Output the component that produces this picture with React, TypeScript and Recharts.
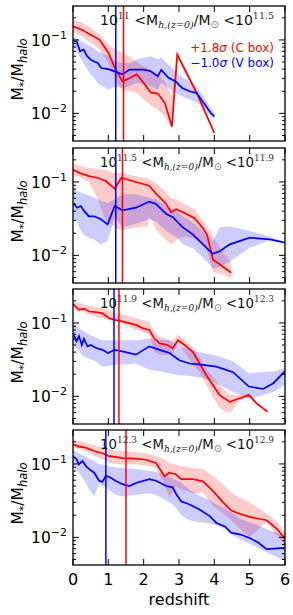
import React from 'react';
import { ComposedChart, Line, Area, XAxis, YAxis, ReferenceLine } from 'recharts';

// Each row: [redshift, median, lower, upper]
type Row = [number, number, number, number];

const p1Red: Row[] = [
  [0, 0.153, 0.127, 0.186], [0.25, 0.138, 0.112, 0.174], [0.5, 0.118, 0.091, 0.146],
  [0.75, 0.101, 0.074, 0.12], [1.0, 0.067, 0.0486, 0.086], [1.2, 0.04, 0.0288, 0.074],
  [1.4, 0.0273, 0.021, 0.0665], [1.6, 0.03, 0.02, 0.06], [1.8, 0.034, 0.0189, 0.051],
  [2.0, 0.026, 0.0154, 0.0437], [2.2, 0.0193, 0.013, 0.0394], [2.4, 0.0186, 0.0112, 0.034],
  [2.6, 0.0138, 0.0091, 0.0273], [2.8, 0.0066, 0.006, 0.0171], [2.95, 0.063, 0.057, 0.07],
  [3.5, 0.019, 0.0175, 0.0205], [4.0, 0.0054, 0.0051, 0.0057],
];
const p1Blue: Row[] = [
  [0, 0.096, 0.082, 0.112], [0.1, 0.096, 0.072, 0.106], [0.2, 0.07, 0.058, 0.098],
  [0.3, 0.074, 0.048, 0.092], [0.4, 0.06, 0.04, 0.087], [0.5, 0.0539, 0.034, 0.082],
  [0.6, 0.051, 0.03, 0.076], [0.7, 0.0486, 0.026, 0.07], [0.8, 0.0415, 0.024, 0.066],
  [1.0, 0.04, 0.021, 0.06], [1.2, 0.037, 0.0234, 0.051], [1.4, 0.034, 0.022, 0.0486],
  [1.6, 0.0394, 0.0234, 0.0486], [1.8, 0.0394, 0.026, 0.054], [2.0, 0.0394, 0.025, 0.057],
  [2.2, 0.0375, 0.0234, 0.06], [2.4, 0.032, 0.021, 0.054], [2.5, 0.039, 0.026, 0.058],
  [2.7, 0.0305, 0.022, 0.046], [2.9, 0.0274, 0.0189, 0.0375], [3.0, 0.0245, 0.018, 0.034],
  [3.1, 0.022, 0.017, 0.031], [3.3, 0.02, 0.0154, 0.027], [3.5, 0.0189, 0.014, 0.023],
  [3.7, 0.0138, 0.0118, 0.0171], [3.9, 0.0101, 0.0092, 0.0118], [4.0, 0.0091, 0.0082, 0.0101],
];

const p2Red: Row[] = [
  [0, 0.146, 0.125, 0.18], [0.22, 0.131, 0.115, 0.165], [0.45, 0.12, 0.1, 0.155],
  [0.69, 0.114, 0.06, 0.15], [0.93, 0.103, 0.03, 0.145], [1.18, 0.081, 0.024, 0.13],
  [1.37, 0.114, 0.022, 0.135], [1.78, 0.1, 0.024, 0.12], [2.12, 0.09, 0.025, 0.112],
  [2.16, 0.088, 0.034, 0.11], [2.37, 0.068, 0.022, 0.095], [2.64, 0.05, 0.016, 0.072],
  [2.78, 0.0386, 0.014, 0.06], [2.92, 0.0425, 0.016, 0.058], [3.16, 0.0377, 0.018, 0.05],
  [3.44, 0.032, 0.017, 0.042], [3.68, 0.0234, 0.014, 0.03], [3.79, 0.0193, 0.012, 0.026],
  [3.96, 0.0088, 0.006, 0.018], [4.23, 0.0071, 0.0055, 0.011], [4.48, 0.0058, 0.0048, 0.008],
];
const p2Blue: Row[] = [
  [0, 0.052, 0.033, 0.084], [0.12, 0.0446, 0.028, 0.075], [0.22, 0.047, 0.0214, 0.072],
  [0.32, 0.04, 0.019, 0.069], [0.45, 0.034, 0.0174, 0.066], [0.6, 0.034, 0.0165, 0.061],
  [0.79, 0.031, 0.0141, 0.055], [0.98, 0.0264, 0.0157, 0.052], [1.18, 0.047, 0.033, 0.058],
  [1.4, 0.041, 0.024, 0.068], [1.78, 0.0446, 0.027, 0.068], [2.16, 0.054, 0.031, 0.061],
  [2.35, 0.05, 0.029, 0.058], [2.64, 0.0365, 0.0214, 0.047], [2.83, 0.033, 0.019, 0.042],
  [2.97, 0.028, 0.017, 0.038], [3.11, 0.024, 0.0141, 0.034], [3.39, 0.0193, 0.0125, 0.028],
  [3.68, 0.0141, 0.0093, 0.0214], [3.87, 0.0114, 0.0075, 0.018], [3.96, 0.0105, 0.0065, 0.0157],
  [4.15, 0.0114, 0.007, 0.024], [4.44, 0.0141, 0.0082, 0.025], [5.0, 0.0174, 0.0127, 0.0214],
  [5.57, 0.0165, 0.016, 0.018], [6.0, 0.0149, 0.0148, 0.0152],
];

const p3Red: Row[] = [
  [0, 0.181, 0.158, 0.195], [0.17, 0.151, 0.145, 0.19], [0.31, 0.157, 0.14, 0.18],
  [0.46, 0.143, 0.13, 0.17], [0.64, 0.14, 0.122, 0.165], [0.83, 0.136, 0.116, 0.158],
  [1.02, 0.116, 0.11, 0.145], [1.18, 0.11, 0.105, 0.136], [1.4, 0.105, 0.098, 0.13],
  [1.78, 0.094, 0.08, 0.116], [1.97, 0.085, 0.075, 0.11], [2.16, 0.08, 0.069, 0.105],
  [2.3, 0.0617, 0.0405, 0.076], [2.45, 0.0527, 0.0365, 0.065], [2.68, 0.05, 0.037, 0.06],
  [2.82, 0.045, 0.038, 0.056], [2.97, 0.058, 0.053, 0.069], [3.16, 0.05, 0.04, 0.06],
  [3.39, 0.0405, 0.027, 0.047], [3.58, 0.0282, 0.0215, 0.0345], [3.77, 0.0195, 0.0143, 0.024],
  [4.15, 0.0104, 0.0069, 0.0143], [4.44, 0.0084, 0.0059, 0.0104], [4.72, 0.0094, 0.0089, 0.0104],
  [4.98, 0.0104, 0.0099, 0.011], [5.2, 0.008, 0.0076, 0.0084], [5.5, 0.0062, 0.0059, 0.0065],
];
const p3Blue: Row[] = [
  [0, 0.073, 0.053, 0.099], [0.1, 0.056, 0.045, 0.092], [0.17, 0.066, 0.042, 0.085],
  [0.25, 0.05, 0.037, 0.08], [0.31, 0.061, 0.035, 0.077], [0.41, 0.048, 0.033, 0.072],
  [0.5, 0.05, 0.032, 0.068], [0.64, 0.046, 0.03, 0.064], [0.83, 0.043, 0.0254, 0.058],
  [0.99, 0.039, 0.026, 0.058], [1.18, 0.043, 0.027, 0.058], [1.4, 0.041, 0.027, 0.058],
  [1.78, 0.037, 0.028, 0.058], [2.16, 0.048, 0.023, 0.061], [2.45, 0.043, 0.022, 0.059],
  [2.73, 0.039, 0.0205, 0.058], [3.01, 0.031, 0.0195, 0.048], [3.3, 0.028, 0.019, 0.043],
  [3.68, 0.0268, 0.0178, 0.039], [4.06, 0.0254, 0.015, 0.036], [4.53, 0.0213, 0.0115, 0.03],
  [4.98, 0.0136, 0.0093, 0.0205], [5.38, 0.0126, 0.0104, 0.0215], [5.67, 0.0151, 0.0115, 0.022],
  [6.0, 0.022, 0.0143, 0.0243],
];

const p4Red: Row[] = [
  [0, 0.185, 0.167, 0.212], [0.17, 0.172, 0.158, 0.205], [0.36, 0.167, 0.15, 0.195],
  [0.6, 0.15, 0.13, 0.18], [0.83, 0.14, 0.116, 0.167], [1.02, 0.128, 0.105, 0.158],
  [1.2, 0.125, 0.1, 0.152], [1.4, 0.12, 0.098, 0.15], [1.78, 0.118, 0.099, 0.145],
  [2.07, 0.114, 0.095, 0.14], [2.35, 0.103, 0.089, 0.128], [2.59, 0.068, 0.053, 0.116],
  [2.73, 0.076, 0.035, 0.103], [2.92, 0.072, 0.05, 0.098], [3.06, 0.062, 0.045, 0.094],
  [3.39, 0.062, 0.04, 0.088], [3.68, 0.058, 0.0405, 0.085], [3.96, 0.043, 0.027, 0.069],
  [4.25, 0.03, 0.021, 0.053], [4.48, 0.0232, 0.0171, 0.0405], [4.72, 0.021, 0.0131, 0.035],
  [5.0, 0.019, 0.0101, 0.03], [5.48, 0.0171, 0.0163, 0.021], [5.77, 0.0131, 0.0104, 0.0163],
  [6.0, 0.0096, 0.008, 0.0115],
];
const p4Blue: Row[] = [
  [0, 0.128, 0.095, 0.155], [0.1, 0.116, 0.085, 0.148], [0.17, 0.099, 0.075, 0.14],
  [0.27, 0.11, 0.065, 0.132], [0.36, 0.094, 0.055, 0.125], [0.46, 0.085, 0.045, 0.118],
  [0.6, 0.076, 0.036, 0.11], [0.74, 0.059, 0.055, 0.1], [0.83, 0.057, 0.05, 0.098],
  [0.93, 0.069, 0.048, 0.095], [1.07, 0.065, 0.042, 0.092], [1.2, 0.059, 0.038, 0.09],
  [1.4, 0.053, 0.036, 0.088], [1.59, 0.05, 0.037, 0.086], [1.78, 0.055, 0.038, 0.085],
  [2.16, 0.062, 0.04, 0.08], [2.35, 0.059, 0.038, 0.078], [2.64, 0.05, 0.032, 0.07],
  [2.82, 0.048, 0.028, 0.064], [2.92, 0.039, 0.025, 0.06], [3.06, 0.031, 0.02, 0.055],
  [3.3, 0.028, 0.017, 0.045], [3.58, 0.024, 0.016, 0.037], [3.87, 0.0195, 0.0155, 0.032],
  [4.06, 0.0157, 0.0145, 0.028], [4.3, 0.0141, 0.013, 0.025], [4.48, 0.0115, 0.011, 0.022],
  [4.72, 0.011, 0.0095, 0.018], [5.0, 0.0098, 0.0082, 0.016], [5.24, 0.0085, 0.0072, 0.0145],
  [5.48, 0.0069, 0.0062, 0.013], [6.0, 0.0072, 0.0048, 0.0105],
];

const redSeries = [p1Red, p2Red, p3Red, p4Red];
const blueSeries = [p1Blue, p2Blue, p3Blue, p4Blue];
const redVLines = [1.43, 1.4, 1.3, 1.5];
const blueVLines = [1.21, 1.21, 1.16, 0.93];
const massLo = ['11', '11.5', '11.9', '12.3'];
const massHi = ['11.5', '11.9', '12.3', '12.9'];
const legendLabels = ['+1.8', '\u22121.0'];
const legendBoxes = [' (C box)', ' (V box)'];
const zTicks = [0, 1, 2, 3, 4, 5, 6];
const yTicks = [0.005, 0.006, 0.007, 0.008, 0.009, 0.01, 0.02, 0.03, 0.04, 0.05, 0.06, 0.07, 0.08, 0.09, 0.1, 0.2];
const yMajor = [0.01, 0.1];
const yMajorExp = ['\u22122', '\u22121'];

const RED = '#ff0000';
const BLUE = '#0000ff';
const FONT = 'DejaVu Sans';
const PLOT_LEFT = 73;
const PLOT_W = 212;
const PLOT_H = 135;
const TOP_PAD = 6;
const panelTops = [6, 148, 289, 430];
const Y_DOMAIN: [number, number] = [0.0042, 0.29];

const toData = (rows: Row[]) => rows.map(([z, v, lo, hi]) => ({ z, v, r: [lo, hi] }));

const YTick = (props: any) => {
  const { x, y, payload } = props;
  const mi = yMajor.indexOf(payload.value);
  const len = mi >= 0 ? 6 : 3;
  return (
    <g>
      <line x1={x} y1={y} x2={x + len} y2={y} stroke="#000" strokeWidth={1} />
      <line x1={x + PLOT_W} y1={y} x2={x + PLOT_W - len} y2={y} stroke="#000" strokeWidth={1} />
      {mi >= 0 && (
        <text x={x - 6} y={y + 6} textAnchor="end" fontSize={15.5} fontFamily={FONT} fill="#000">
          10<tspan dy={-7} fontSize={11}>{yMajorExp[mi]}</tspan>
        </text>
      )}
    </g>
  );
};

const XTick = (props: any) => {
  const { x, y, payload, showLabel } = props;
  return (
    <g>
      <line x1={x} y1={y} x2={x} y2={y - 6} stroke="#000" strokeWidth={1} />
      <line x1={x} y1={y - PLOT_H} x2={x} y2={y - PLOT_H + 6} stroke="#000" strokeWidth={1} />
      {showLabel && (
        <text x={x} y={y + 20} textAnchor="middle" fontSize={16} fontFamily={FONT} fill="#000">
          {payload.value}
        </text>
      )}
    </g>
  );
};

const YLabel = (props: any) => {
  const vb = props.viewBox || { x: 0, y: TOP_PAD, width: PLOT_LEFT, height: PLOT_H };
  const cx = 23;
  const cy = vb.y + vb.height / 2 - 4;
  return (
    <text transform={`translate(${cx},${cy}) rotate(-90)`} textAnchor="middle" fontSize={15.5} fontFamily={FONT} fill="#000">
      M<tspan dy={4} fontSize={11}>*</tspan>
      <tspan dy={-4}>/M</tspan>
      <tspan dy={4} fontSize={11.5} fontStyle="italic">halo</tspan>
    </text>
  );
};

const XLabel = (props: any) => {
  const vb = props.viewBox || { x: PLOT_LEFT, y: 0, width: PLOT_W, height: 0 };
  return (
    <text x={vb.x + vb.width / 2} y={vb.y + 40} textAnchor="middle" fontSize={16} fontFamily={FONT} fill="#000">
      redshift
    </text>
  );
};

function Panel({ idx }: { idx: number }) {
  const top = panelTops[idx];
  const last = idx === 3;
  const xAxisH = last ? 615 - (top + PLOT_H) : 6;
  const chartH = TOP_PAD + PLOT_H + xAxisH;
  const red = toData(redSeries[idx]);
  const blue = toData(blueSeries[idx]);
  return (
    <div style={{ position: 'absolute', left: 0, top: top - TOP_PAD }}>
      <ComposedChart width={293} height={chartH} margin={{ top: TOP_PAD, right: 293 - PLOT_LEFT - PLOT_W, bottom: 0, left: 0 }}>
        <XAxis
          type="number"
          dataKey="z"
          domain={[0, 6]}
          ticks={zTicks}
          interval={0}
          allowDataOverflow
          height={xAxisH}
          axisLine={false}
          tickLine={false}
          tickSize={0}
          tickMargin={0}
          tick={<XTick showLabel={last} />}
          label={last ? (p: any) => <XLabel {...p} /> : undefined}
        />
        <YAxis
          type="number"
          scale="log"
          domain={Y_DOMAIN}
          ticks={yTicks}
          interval={0}
          allowDataOverflow
          width={PLOT_LEFT}
          axisLine={false}
          tickLine={false}
          tickSize={0}
          tickMargin={0}
          tick={<YTick />}
          label={(p: any) => <YLabel {...p} />}
        />
        <Area data={red} dataKey="r" type="linear" stroke="none" fill={RED} fillOpacity={0.2} isAnimationActive={false} />
        <Area data={blue} dataKey="r" type="linear" stroke="none" fill={BLUE} fillOpacity={0.2} isAnimationActive={false} />
        <Line data={red} dataKey="v" type="linear" stroke={RED} strokeWidth={1.7} dot={false} isAnimationActive={false} />
        <Line data={blue} dataKey="v" type="linear" stroke={BLUE} strokeWidth={1.7} dot={false} isAnimationActive={false} />
        <ReferenceLine x={blueVLines[idx]} stroke={BLUE} strokeWidth={1.5} />
        <ReferenceLine x={redVLines[idx]} stroke={RED} strokeWidth={1.5} />
      </ComposedChart>
    </div>
  );
}

export default function App() {
  return (
    <div style={{ position: 'absolute', left: 0, top: 0, width: 293, height: 615, background: '#fff' }}>
      {[0, 1, 2, 3].map((i) => (
        <Panel key={i} idx={i} />
      ))}
      <svg width={293} height={615} style={{ position: 'absolute', left: 0, top: 0, pointerEvents: 'none' }}>
        {panelTops.map((t, i) => (
          <g key={i}>
            <rect x={PLOT_LEFT} y={t} width={PLOT_W} height={PLOT_H} fill="none" stroke="#000" strokeWidth={1.3} />
            <text x={100} y={t + 19} fontSize={14} fontFamily={FONT} fill="#111" textLength={174} lengthAdjust="spacingAndGlyphs">
              10<tspan dy={-6} fontSize={9.5} fontFamily="DejaVu Serif" fill="#333">{massLo[i]}</tspan>
              <tspan dy={6}>{' <M'}</tspan>
              <tspan dy={3} fontSize={9.5} fontStyle="italic" fontFamily="DejaVu Serif">h,(z=0)</tspan>
              <tspan dy={-3}>/M</tspan>
              <tspan dy={3} fontSize={10} fill="#777">{'\u2299'}</tspan>
              <tspan dy={-3}>{' <10'}</tspan>
              <tspan dy={-6} fontSize={9.5} fontFamily="DejaVu Serif" fill="#333">{massHi[i]}</tspan>
            </text>
          </g>
        ))}
        {legendLabels.map((lab, i) => (
          <text key={i} x={274} y={52 + i * 14.5} textAnchor="end" fontSize={12} fontFamily={FONT} fill={i === 0 ? RED : BLUE}>
            {lab}
            <tspan fontStyle="italic">{'\u03c3'}</tspan>
            {legendBoxes[i]}
          </text>
        ))}
      </svg>
    </div>
  );
}
